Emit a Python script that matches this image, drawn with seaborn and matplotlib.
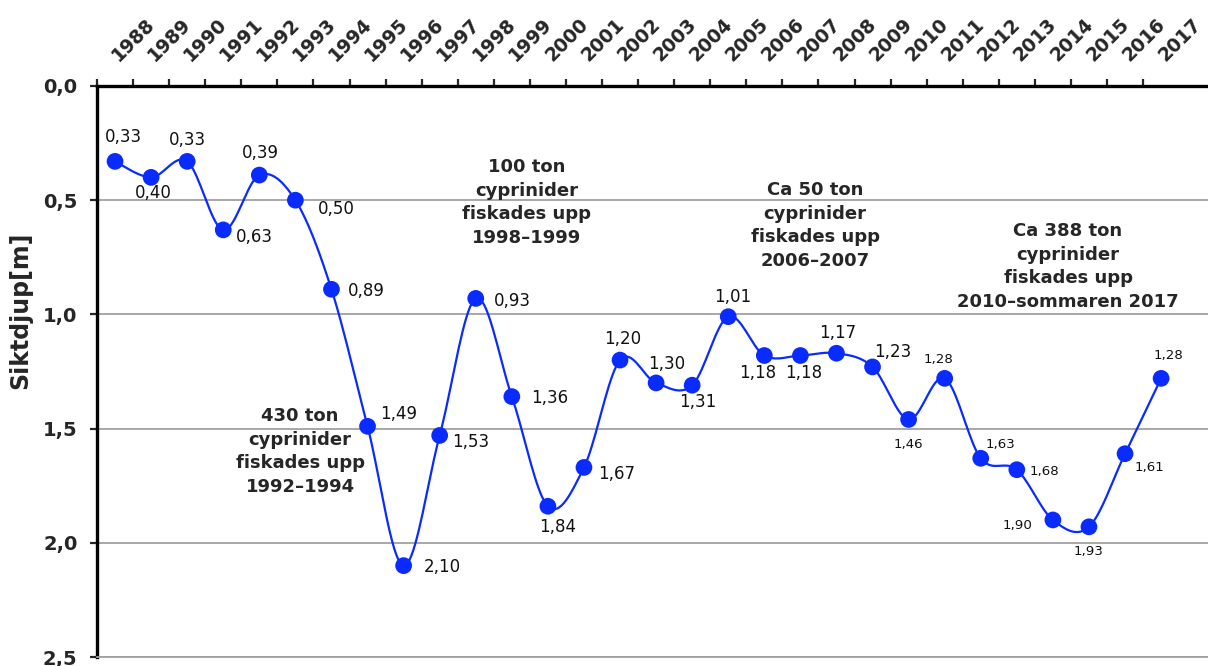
import matplotlib as mat
import matplotlib.pyplot as plt
import matplotlib.transforms as mtrans
import seaborn as sns
import numpy as np
import pandas as pd

sns.set_style('white')
mat.rcParams['font.family'] = ['DejaVu Sans']

# Siktdjup per år
years = list(range(1988, 2018))
depth = [0.33, 0.40, 0.33, 0.63, 0.39, 0.50, 0.89, 1.49, 2.10, 1.53,
         0.93, 1.36, 1.84, 1.67, 1.20, 1.30, 1.31, 1.01, 1.18, 1.18,
         1.17, 1.23, 1.46, 1.28, 1.63, 1.68, 1.90, 1.93, 1.61, 1.28]
yticks = [0.0, 0.5, 1.0, 1.5, 2.0, 2.5]

# label placement: (dx px, dy px downward, ha)
place = [(8, -24, 'center'), (2, 16, 'center'), (0, -21, 'center'), (13, 7, 'left'),
         (1, -22, 'center'), (22, 9, 'left'), (16, 2, 'left'), (13, -12, 'left'),
         (20, 1, 'left'), (12, 7, 'left'), (18, 3, 'left'), (19, 1, 'left'),
         (10, 21, 'center'), (14, 7, 'left'), (3, -21, 'center'), (11, -19, 'center'),
         (6, 17, 'center'), (4, -20, 'center'), (-7, 17, 'center'), (3, 17, 'center'),
         (1, -20, 'center'), (20, -15, 'center'), (0, 25, 'center'), (-6, -19, 'center'),
         (20, -14, 'center'), (13, 2, 'left'), (-20, 6, 'right'), (0, 25, 'center'),
         (24, 14, 'center'), (7, -23, 'center')]

notes = ['430 ton\ncyprinider\nfiskades upp\n1992–1994',
         '100 ton\ncyprinider\nfiskades upp\n1998–1999',
         'Ca 50 ton\ncyprinider\nfiskades upp\n2006–2007',
         'Ca 388 ton\ncyprinider\nfiskades upp\n2010–sommaren 2017']
note_pos = [(5.13, 1.60), (11.42, 0.51), (19.41, 0.61), (26.42, 0.79)]


def smooth(x, y, n=20):
    # excel-like smoothed line (catmull-rom bezier)
    p = np.column_stack([x, y]).astype(float)
    p = np.vstack([p[0], p, p[-1]])
    out = []
    t = np.linspace(0, 1, n)[:, None]
    for i in range(1, len(p) - 2):
        p0, p3 = p[i], p[i + 1]
        c1 = p0 + (p[i + 1] - p[i - 1]) / 6
        c2 = p3 - (p[i + 2] - p[i]) / 6
        seg = (1 - t)**3 * p0 + 3 * (1 - t)**2 * t * c1 + 3 * (1 - t) * t**2 * c2 + t**3 * p3
        out.append(seg if i == 1 else seg[1:])
    return np.vstack(out)


blue = '#0a2bff'
df = pd.DataFrame({'i': np.arange(len(years)), 'depth': depth})
curve = smooth(df['i'], df['depth'])

fig = plt.figure(figsize=(12.08, 6.66), dpi=100)
ax = fig.add_axes([97 / 1208, 1 - 657 / 666, 1 - 97 / 1208, 571 / 666])

sns.lineplot(x=curve[:, 0], y=curve[:, 1], sort=False, estimator=None, color=blue, lw=1.6, ax=ax)
sns.scatterplot(data=df, x='i', y='depth', color=blue, s=145, edgecolor='none', zorder=3, ax=ax)

for i, (v, (dx, dy, ha)) in enumerate(zip(depth, place)):
    fs = 9.6 if i >= 22 else 12
    ax.annotate(f'{v:.2f}'.replace('.', ','), (i, v), xytext=(dx, -dy), textcoords='offset pixels',
                ha=ha, va='center', fontsize=fs, color='#111111')

for txt, (x, y) in zip(notes, note_pos):
    ax.text(x, y, txt, ha='center', va='center', fontsize=13, fontweight='bold', linespacing=1.4)

ax.set_xlim(-0.5, 30.3)
ax.set_ylim(2.5, 0)
ax.set_yticks(yticks)
ax.set_yticklabels([f'{v:.1f}'.replace('.', ',') for v in yticks], fontsize=14, fontweight='bold')
ax.yaxis.grid(True, color='#a0a0a0', lw=1.3)
ax.set_axisbelow(True)

ax.xaxis.tick_top()
ax.set_xticks(np.arange(len(years)))
ax.set_xticklabels([str(y) for y in years], rotation=45, ha='left', va='bottom',
                   rotation_mode='anchor', fontsize=13.5, fontweight='bold')
ax.set_xticks(np.arange(len(years)) - 0.5, minor=True)
ax.tick_params(axis='x', which='major', length=0, pad=15)
ax.tick_params(axis='x', which='minor', length=5, width=1.6, top=True, bottom=False, direction='out')
ax.tick_params(axis='y', length=5, width=1.6, left=True, direction='out', pad=9)
shift = mtrans.ScaledTranslation(7 / 100, 0, fig.dpi_scale_trans)
for lab in ax.get_xticklabels():
    lab.set_transform(lab.get_transform() + shift)

ax.spines['top'].set_linewidth(2.4)
ax.spines['left'].set_linewidth(2.4)
ax.spines['top'].set_color('black')
ax.spines['left'].set_color('black')
ax.spines['right'].set_visible(False)
ax.spines['bottom'].set_color('#a0a0a0')
ax.spines['bottom'].set_linewidth(1.3)

ax.set_xlabel('')
ax.set_ylabel('Siktdjup[m]', fontsize=17, fontweight='bold')
ax.yaxis.set_label_coords(-0.058, 0.608)

fig.savefig('out.png', dpi=100)
